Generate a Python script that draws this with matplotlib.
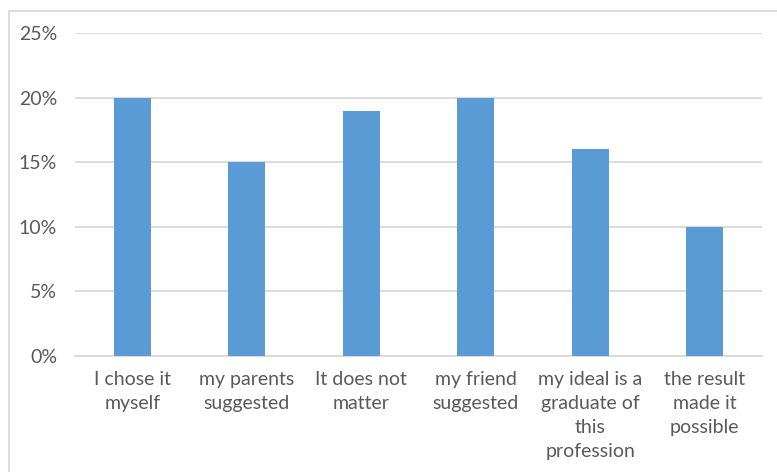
import matplotlib.pyplot as plt
import numpy as np
from matplotlib.ticker import PercentFormatter

categories = ["I chose it\nmyself", "my parents\nsuggested", "It does not\nmatter",
              "my friend\nsuggested", "my ideal is a\ngraduate of\nthis\nprofession",
              "the result\nmade it\npossible"]
values = [0.20, 0.15, 0.19, 0.20, 0.16, 0.10]
yticks = [0, 0.05, 0.10, 0.15, 0.20, 0.25]

plt.rcParams['font.family'] = ['Lato', 'DejaVu Sans']
text_color = '#595959'
grid_color = '#d9d9d9'

fig = plt.figure(figsize=(7.77, 4.72), dpi=100)
ax = fig.add_axes([0.0965, 0.2458, 0.8842, 0.6842])

x = np.arange(len(categories))
ax.bar(x, values, width=0.32, color='#5b9bd5', zorder=3)

ax.set_xlim(-0.5, len(categories) - 0.5)
ax.set_ylim(0, 0.25)
ax.set_yticks(yticks)
ax.yaxis.set_major_formatter(PercentFormatter(1.0, decimals=0))
ax.set_xticks(x)
ax.set_xticklabels(categories, linespacing=1.5)

ax.grid(axis='y', color=grid_color, linewidth=1.3, zorder=0)
for s in ['top', 'right', 'left']:
    ax.spines[s].set_visible(False)
ax.spines['bottom'].set_color(grid_color)
ax.spines['bottom'].set_linewidth(1.3)
ax.tick_params(axis='both', length=0, labelsize=14, colors=text_color)
ax.tick_params(axis='y', pad=13)
ax.tick_params(axis='x', pad=11)

# outer chart border (left and top visible)
fig.add_artist(plt.Line2D([9 / 777, 9 / 777], [0, 1 - 11 / 472], color=grid_color, linewidth=1.3))
fig.add_artist(plt.Line2D([9 / 777, 1], [1 - 11 / 472, 1 - 11 / 472], color=grid_color, linewidth=1.3))

fig.savefig('out.png', dpi=100)
